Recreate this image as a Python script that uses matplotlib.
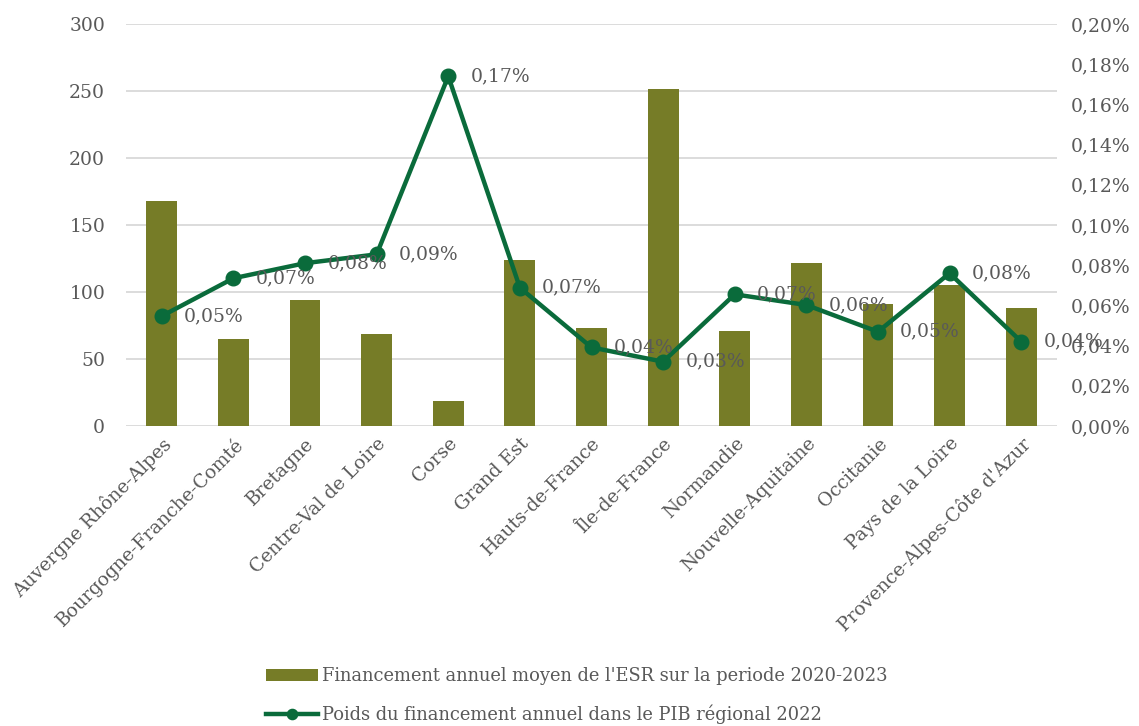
import matplotlib
matplotlib.use("Agg")
import matplotlib.pyplot as plt
from matplotlib.ticker import FuncFormatter, MultipleLocator

regions = ["Auvergne Rhône-Alpes", "Bourgogne-Franche-Comté", "Bretagne", "Centre-Val de Loire",
           "Corse", "Grand Est", "Hauts-de-France", "Île-de-France", "Normandie",
           "Nouvelle-Aquitaine", "Occitanie", "Pays de la Loire", "Provence-Alpes-Côte d'Azur"]
financement = [168, 65, 94, 69, 19, 124, 73, 251.5, 71, 122, 91, 105, 88]
poids_pib = [0.0547, 0.0735, 0.081, 0.0854, 0.174, 0.0688, 0.0391, 0.032, 0.0655, 0.0602, 0.0469, 0.076, 0.042]

bar_label = "Financement annuel moyen de l'ESR sur la periode 2020-2023"
line_label = "Poids du financement annuel dans le PIB régional 2022"

plt.rcParams['font.family'] = ['DejaVu Serif', 'Liberation Serif']
txt = "#595959"
bar_color = "#767C27"
line_color = "#0A6B3B"
fs = 13.5

fig = plt.figure(figsize=(11.39, 7.26), dpi=100)
ax = fig.add_axes([126/1139, 1 - 426/726, (1057-126)/1139, (426-24)/726])
ax2 = ax.twinx()

x = list(range(len(regions)))
bars = ax.bar(x, financement, width=0.43, color=bar_color, zorder=2)
ax.set_ylim(0, 300)
ax.yaxis.set_major_locator(MultipleLocator(50))
ax.set_xlim(-0.5, len(regions) - 0.5)
ax.grid(axis='y', color='#D9D9D9', linewidth=1.3, zorder=0)
ax.set_axisbelow(True)
for s in ['top', 'right', 'left', 'bottom']:
    ax.spines[s].set_visible(False)
    ax2.spines[s].set_visible(False)
ax.tick_params(axis='y', length=0, labelsize=fs, labelcolor=txt, pad=15)
ax.tick_params(axis='x', length=0, labelsize=fs, labelcolor=txt, pad=6)
ax.set_xticks(x)
ax.set_xticklabels(regions, rotation=45, ha='right', rotation_mode='anchor')

line, = ax2.plot(x, poids_pib, color=line_color, lw=3.2, marker='o', markersize=10.5, zorder=3)
ax2.set_ylim(0, 0.20)
ax2.yaxis.set_major_locator(MultipleLocator(0.02))
ax2.yaxis.set_major_formatter(FuncFormatter(lambda v, p: f"{v:.2f}%".replace('.', ',')))
ax2.tick_params(axis='y', length=0, labelsize=fs, labelcolor=txt, pad=10)

for xi, v in zip(x, poids_pib):
    ax2.annotate(f"{v:.2f}%".replace('.', ','), (xi, v), xytext=(16, 0), textcoords='offset points',
                 ha='left', va='center', fontsize=fs, color=txt, zorder=4)

fig.legend([bars, line], [bar_label, line_label], loc='lower center', bbox_to_anchor=(0.5066, -0.02),
           ncol=1, frameon=False, fontsize=12.9, labelcolor=txt, handlelength=2.9,
           handletextpad=0.2, labelspacing=1.1, markerscale=0.7)

fig.savefig("out.png", dpi=100)
